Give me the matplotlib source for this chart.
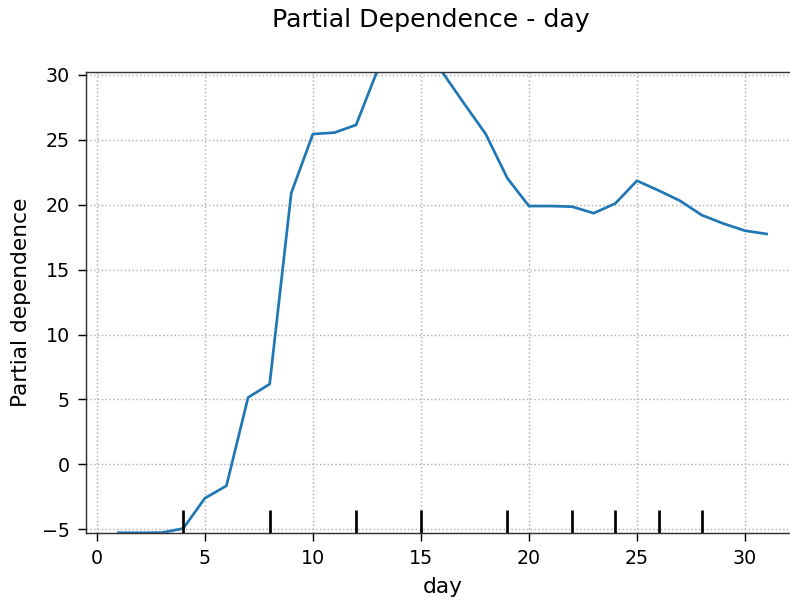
import matplotlib
matplotlib.use("Agg")
import matplotlib.pyplot as plt
import matplotlib.transforms as mtransforms

days = list(range(1, 32))
partial_dependence = [-5.28, -5.28, -5.27, -4.95, -2.62, -1.66, 5.14, 6.18, 20.9, 25.45,
                      25.56, 26.15, 30.4, 31.5, 31.2, 30.2, 27.8, 25.45, 22.05, 19.9,
                      19.9, 19.85, 19.35, 20.1, 21.85, 21.1, 20.3, 19.2, 18.55, 18.0, 17.75]
deciles = [4, 8, 12, 15, 19, 22, 24, 26, 28]
feature_name = "day"

dpi = 130
fig = plt.figure(figsize=(790 / dpi, 600 / dpi), dpi=dpi)
ax = fig.add_axes([86 / 790, 1 - 533.3 / 600, (799 - 86) / 790, (533.3 - 72) / 600])

ax.plot(days, partial_dependence, color="#1f77b4", linewidth=1.5)
trans = mtransforms.blended_transform_factory(ax.transData, ax.transAxes)
ax.vlines(deciles, 0, 0.05, transform=trans, color="k", linewidth=1.5)

ax.set_xlim(-0.5, 32.5)
ax.set_ylim(-5.32, 30.23)
ax.set_xticks([0, 5, 10, 15, 20, 25, 30])
ax.set_yticks([-5, 0, 5, 10, 15, 20, 25, 30])
ax.grid(True, linestyle=":", color="#b0b0b0", linewidth=0.8)
ax.set_xlabel(feature_name, fontsize=12, labelpad=5)
ax.set_ylabel("Partial dependence", fontsize=12, labelpad=6)
ax.tick_params(labelsize=10.5, length=4.4, pad=4.5)
for s in ax.spines.values():
    s.set_color("#333333")

fig.suptitle("Partial Dependence - day", fontsize=14, x=431 / 790, y=1 - 20 / 600, va="center")

fig.savefig("out.png", dpi=dpi)
